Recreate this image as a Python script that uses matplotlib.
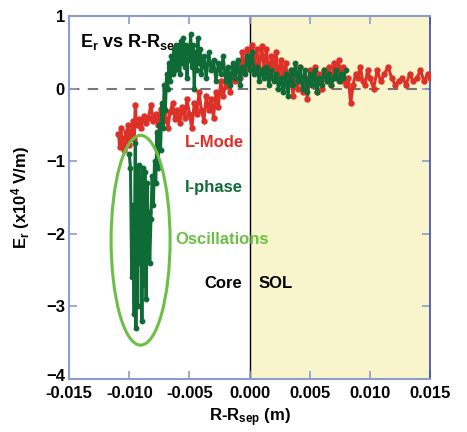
import numpy as np
import matplotlib
matplotlib.use("Agg")
import matplotlib.pyplot as plt
import matplotlib.transforms as mtransforms
from matplotlib.patches import Ellipse

plt.rcParams["font.family"] = ["Liberation Sans", "DejaVu Sans"]
plt.rcParams["font.weight"] = "bold"
plt.rcParams["mathtext.fontset"] = "custom"
plt.rcParams["mathtext.rm"] = "Liberation Sans:bold"
plt.rcParams["mathtext.default"] = "rm"

# L-mode profile (x in mm, Er in 1e4 V/m)
lmode_x_mm = [
    -10.9, -10.8, -10.7, -10.6, -10.5, -10.4, -10.3, -10.2, -10.1, -10.0,
    -9.9, -9.8, -9.7, -9.6, -9.5, -9.4, -9.2, -9.0, -8.8, -8.6,
    -8.4, -8.2, -8.0, -7.8, -7.6, -7.4, -7.2, -7.0, -6.8, -6.6,
    -6.4, -6.2, -6.0, -5.8, -5.6, -5.4, -5.2, -5.0, -4.8, -4.6,
    -4.4, -4.2, -4.0, -3.8, -3.6, -3.4, -3.2, -3.0, -2.8, -2.6,
    -2.4, -2.2, -2.0, -1.8, -1.6, -1.4, -1.2, -1.0, -0.8, -0.6,
    -0.4, -0.2, 0.0, 0.2, 0.4, 0.6, 0.8, 1.0, 1.2, 1.4,
    1.6, 1.8, 2.0, 2.2, 2.4, 2.6, 2.8, 3.0, 3.2, 3.4,
    3.6, 3.8, 4.0, 4.2, 4.4, 4.6, 4.8, 5.0, 5.2, 5.4,
    5.6, 5.8, 6.0, 6.2, 6.4, 6.6, 6.8, 7.0, 7.2, 7.4,
    7.6, 7.8, 8.0, 8.2, 8.4, 8.6, 8.8, 9.0, 9.2, 9.4,
    9.6, 9.8, 10.0, 10.3, 10.6, 10.9, 11.2, 11.5, 11.8, 12.1,
    12.4, 12.7, 13.0, 13.3, 13.6, 13.9, 14.2, 14.5, 14.8, 15.0,
]
lmode_er = [
    -0.62, -0.80, -0.55, -0.75, -0.68, -0.85, -0.60, -0.72, -0.50, -0.78,
    -0.58, -0.65, -0.45, -0.70, -0.22, -0.50, -0.42, -0.55, -0.38, -0.48,
    -0.40, -0.22, -0.45, -0.35, -0.50, -0.28, -0.45, -0.30, -0.55, -0.32,
    -0.20, -0.42, -0.30, -0.48, -0.25, -0.40, -0.15, -0.35, -0.55, -0.20,
    -0.35, -0.05, -0.30, -0.45, -0.10, -0.30, -0.15, -0.40, -0.05, -0.25,
    0.10, -0.10, 0.05, 0.20, -0.05, 0.30, 0.10, 0.35, 0.15, 0.50,
    0.25, 0.55, 0.30, 0.60, 0.35, 0.55, 0.25, 0.58, 0.30, 0.55,
    0.15, 0.45, 0.25, 0.50, 0.10, 0.40, 0.20, 0.35, 0.05, 0.25,
    -0.10, 0.20, 0.00, 0.30, -0.05, 0.15, -0.15, 0.25, 0.05, 0.30,
    -0.05, 0.20, 0.00, 0.25, 0.10, 0.30, 0.05, 0.35, 0.15, 0.40,
    0.10, 0.30, 0.05, 0.15, -0.20, 0.05, 0.20, 0.15, 0.30, 0.10,
    0.05, 0.25, 0.15, 0.00, 0.25, 0.10, 0.20, 0.30, 0.15, 0.05,
    0.10, 0.15, 0.05, 0.20, 0.10, 0.15, 0.25, 0.10, 0.20, 0.15,
]

# I-phase profile
iphase_x_mm = [
    -10.0, -9.9, -9.8, -9.7, -9.6, -9.5, -9.45, -9.4, -9.3, -9.2,
    -9.1, -9.0, -8.95, -8.9, -8.8, -8.7, -8.6, -8.5, -8.45, -8.4,
    -8.3, -8.2, -8.1, -8.0, -7.9, -7.8, -7.7, -7.6, -7.5, -7.4,
    -7.3, -7.2, -7.1, -7.0, -6.9, -6.8, -6.7, -6.6, -6.5, -6.4,
    -6.3, -6.2, -6.1, -6.0, -5.9, -5.8, -5.7, -5.6, -5.5, -5.4,
    -5.3, -5.2, -5.1, -5.0, -4.9, -4.8, -4.7, -4.6, -4.5, -4.4,
    -4.3, -4.2, -4.1, -4.0, -3.8, -3.6, -3.4, -3.2, -3.0, -2.8,
    -2.6, -2.4, -2.2, -2.0, -1.8, -1.6, -1.4, -1.2, -1.0, -0.8,
    -0.6, -0.4, -0.2, 0.0, 0.2, 0.4, 0.6, 0.8, 1.0, 1.2,
    1.4, 1.6, 1.8, 2.0, 2.2, 2.4, 2.6, 2.8, 3.0, 3.2,
    3.4, 3.6, 3.8, 4.0, 4.2, 4.4, 4.6, 4.8, 5.0, 5.2,
    5.4, 5.6, 5.8, 6.0, 6.2, 6.4, 6.6, 6.8, 7.0, 7.2,
    7.4, 7.6, 7.8, 8.0,
]
iphase_er = [
    -0.90, -1.10, -2.60, -1.60, -3.10, -0.75, -3.30, -1.20, -3.00, -1.05,
    -2.40, -1.40, -3.20, -1.10, -2.70, -1.15, -2.90, -1.30, -2.00, -1.70,
    -2.40, -1.80, -1.20, -1.60, -1.00, -1.30, -0.60, -1.10, -0.50, -0.85,
    -0.20, -0.55, 0.05, -0.30, 0.20, 0.00, 0.35, 0.10, 0.45, 0.20,
    0.55, 0.25, 0.60, 0.30, 0.55, 0.20, 0.65, 0.35, 0.70, 0.30,
    0.60, 0.15, 0.55, 0.40, 0.75, 0.30, 0.60, 0.00, 0.50, 0.25,
    0.70, 0.35, 0.55, 0.20, 0.45, 0.15, 0.50, 0.25, 0.40, 0.10,
    0.35, 0.20, 0.45, 0.10, 0.30, 0.05, 0.35, 0.15, 0.40, 0.05,
    0.30, 0.20, 0.45, 0.25, 0.50, 0.20, 0.30, 0.10, 0.25, 0.15,
    0.30, 0.05, 0.25, 0.10, 0.20, 0.00, 0.15, -0.05, 0.20, -0.10,
    0.25, 0.05, 0.35, 0.10, 0.30, 0.00, 0.25, -0.05, 0.20, 0.05,
    0.25, -0.05, 0.15, 0.05, 0.25, 0.10, 0.20, 0.05, 0.15, 0.25,
    0.10, 0.20, 0.15, 0.25,
]

red = "#dd3128"
green = "#0f6b36"
light_green = "#6cbf45"
spine_col = "#8e9bcc"

fig = plt.figure(figsize=(4.67, 4.32), dpi=100)
ax = fig.add_axes([0.148, 0.123, 0.773, 0.840])

ax.axvspan(0, 0.015, color="#f8f5cc", zorder=0)
ax.axvline(0, color="black", lw=1.0, zorder=1)
ax.axhline(0, color="#777777", lw=1.5, ls=(0, (5, 4)), zorder=1)

lx = np.array(lmode_x_mm) * 1e-3
ix = np.array(iphase_x_mm) * 1e-3
ax.plot(lx, lmode_er, color=red, lw=2.2, marker="o", ms=3.6, zorder=3)
ax.plot(ix, iphase_er, color=green, lw=2.2, marker="o", ms=3.2, zorder=4)

ax.add_patch(Ellipse((-0.00906, -2.09), 0.0049, 2.89, fill=False,
                     edgecolor=light_green, lw=2.2, zorder=5))

ax.set_xlim(-0.015, 0.015)
ax.set_ylim(-4, 1)
ax.set_xticks([-0.015, -0.010, -0.005, 0.000, 0.005, 0.010, 0.015])
ax.set_xticklabels(["-0.015", "-0.010", "-0.005", "0.000", "0.005", "0.010", "0.015"])
ax.set_yticks([-4, -3, -2, -1, 0, 1])
ax.tick_params(direction="in", length=6, width=1.2, color=spine_col,
               top=True, right=True, labelsize=12)
ax.tick_params(axis="x", pad=5)
ax.tick_params(axis="y", pad=3)
for side in ["left", "top", "bottom"]:
    ax.spines[side].set_color(spine_col)
    ax.spines[side].set_linewidth(1.5)
ax.spines["right"].set_color("#3a4aa8")
ax.spines["right"].set_linewidth(1.2)

# nudge the bottom y label up a little so it clears "-0.015"
lift = mtransforms.ScaledTranslation(0, 3 / 72, fig.dpi_scale_trans)
bottom_lbl = ax.get_yticklabels()[0]
bottom_lbl.set_transform(bottom_lbl.get_transform() + lift)

ax.set_xlabel("R-R$_{sep}$ (m)", fontsize=12, fontweight="bold", labelpad=4)
ax.set_ylabel("E$_{r}$ (x10$^{4}$ V/m)", fontsize=12, fontweight="bold", labelpad=10)

ax.text(0.03, 0.955, "E$_{r}$ vs R-R$_{sep}$", transform=ax.transAxes,
        fontsize=13, fontweight="bold", va="top", ha="left")
ax.text(0.32, 0.65, "L-Mode", transform=ax.transAxes, color=red,
        fontsize=12, fontweight="bold", va="center")
ax.text(0.32, 0.526, "I-phase", transform=ax.transAxes, color=green,
        fontsize=12, fontweight="bold", va="center")
ax.text(0.295, 0.383, "Oscillations", transform=ax.transAxes, color=light_green,
        fontsize=12, fontweight="bold", va="center")
ax.text(0.375, 0.264, "Core", transform=ax.transAxes, color="black",
        fontsize=12, fontweight="bold", va="center")
ax.text(0.525, 0.264, "SOL", transform=ax.transAxes, color="black",
        fontsize=12, fontweight="bold", va="center")

fig.savefig("out.png", dpi=100)
